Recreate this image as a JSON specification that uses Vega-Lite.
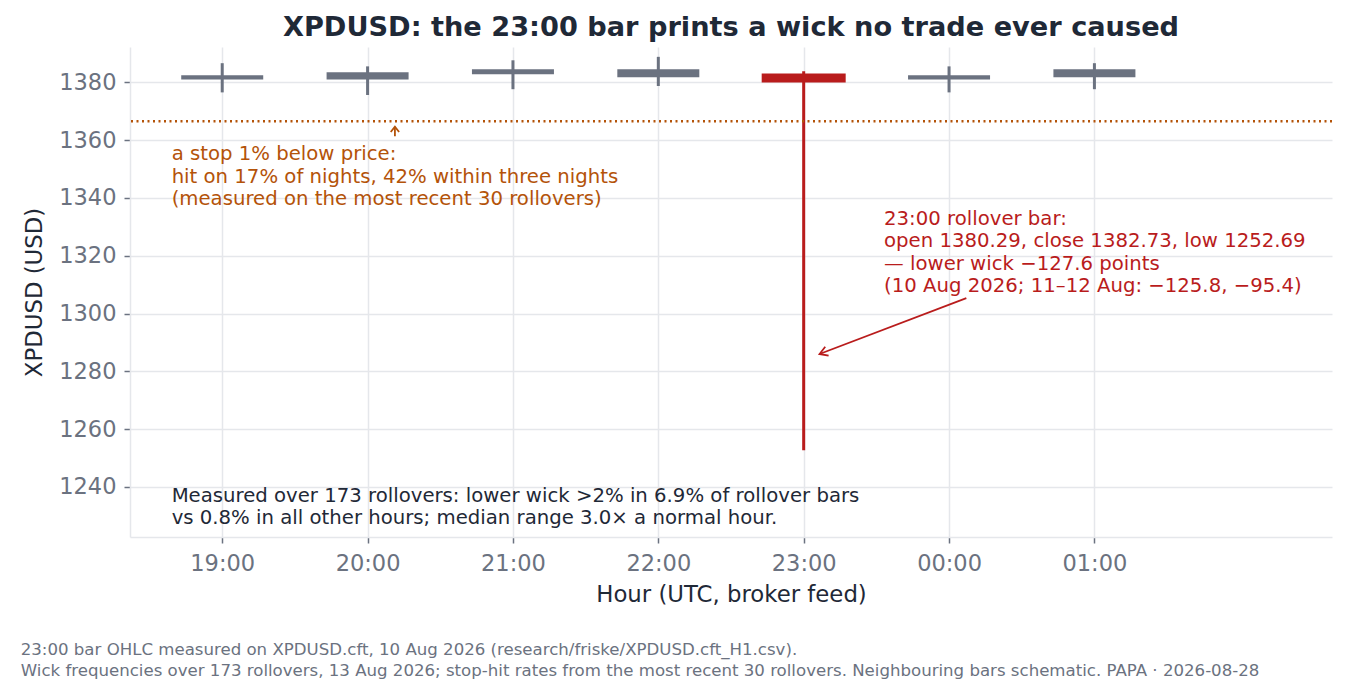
{
  "$schema": "https://vega.github.io/schema/vega-lite/v6.json",
  "width": 1202,
  "height": 490,
  "autosize": {"type": "none"},
  "padding": {"left": 130, "top": 47, "right": 14, "bottom": 158},
  "background": "white",
  "title": {
    "text": "XPDUSD: the 23:00 bar prints a wick no trade ever caused",
    "fontSize": 27.2, "fontWeight": "bold", "color": "#1f2937", "font": "DejaVu Sans",
    "anchor": "middle", "offset": 5
  },
  "config": {
    "font": "DejaVu Sans",
    "view": {"stroke": null},
    "axis": {
      "gridColor": "#e5e7eb", "gridWidth": 1.5, "domainColor": "#e5e7eb", "domainWidth": 1.5,
      "tickColor": "#6b7280", "tickSize": 6, "tickWidth": 1.5,
      "labelColor": "#6b7280", "labelFontSize": 22.5, "labelFont": "DejaVu Sans",
      "titleColor": "#1f2937", "titleFontSize": 22.8, "titleFont": "DejaVu Sans", "titleFontWeight": "normal"
    }
  },
  "data": {"values": [
    {"i": 0, "hour": "19:00", "open": 1381.0, "close": 1382.4, "high": 1386.6, "low": 1376.5, "kind": "normal"},
    {"i": 1, "hour": "20:00", "open": 1383.5, "close": 1381.0, "high": 1385.5, "low": 1375.6, "kind": "normal"},
    {"i": 2, "hour": "21:00", "open": 1382.8, "close": 1384.5, "high": 1387.6, "low": 1377.6, "kind": "normal"},
    {"i": 3, "hour": "22:00", "open": 1381.7, "close": 1384.5, "high": 1388.8, "low": 1378.7, "kind": "normal"},
    {"i": 4, "hour": "23:00", "open": 1380.29, "close": 1382.73, "high": 1383.8, "low": 1252.69, "kind": "rollover"},
    {"i": 5, "hour": "00:00", "open": 1382.4, "close": 1381.0, "high": 1385.5, "low": 1376.5, "kind": "normal"},
    {"i": 6, "hour": "01:00", "open": 1381.7, "close": 1384.5, "high": 1386.6, "low": 1377.6, "kind": "normal"}
  ]},
  "layer": [
    {
      "mark": {"type": "rule", "strokeWidth": 3},
      "encoding": {
        "x": {"field": "i", "type": "quantitative",
          "scale": {"domain": [-0.6, 7.6], "nice": false, "zero": false},
          "axis": {"values": [0, 1, 2, 3, 4, 5, 6], "grid": true, "title": "Hour (UTC, broker feed)",
            "labelExpr": "['19:00','20:00','21:00','22:00','23:00','00:00','01:00'][datum.value]",
            "labelPadding": 9, "titlePadding": 9}},
        "y": {"field": "low", "type": "quantitative",
          "scale": {"domain": [1222.7, 1392.2], "nice": false, "zero": false},
          "axis": {"values": [1240, 1260, 1280, 1300, 1320, 1340, 1360, 1380], "grid": true, "title": "XPDUSD (USD)",
            "format": "d", "labelPadding": 8, "titlePadding": 12}},
        "y2": {"field": "high"},
        "color": {"field": "kind", "type": "nominal", "scale": {"domain": ["normal", "rollover"], "range": ["#6b7280", "#b91c1c"]}, "legend": null}
      }
    },
    {
      "mark": {"type": "bar", "width": 82},
      "encoding": {
        "x": {"field": "i", "type": "quantitative"},
        "y": {"field": "open", "type": "quantitative"},
        "y2": {"field": "close"},
        "color": {"field": "kind", "type": "nominal", "legend": null},
        "stroke": {"field": "kind", "type": "nominal", "scale": {"domain": ["normal", "rollover"], "range": ["#6b7280", "#b91c1c"]}, "legend": null},
        "strokeWidth": {"condition": {"test": "datum.kind === 'rollover'", "value": 2}, "value": 0}
      }
    },
    {
      "data": {"values": [{"stop": 1366.49}]},
      "mark": {"type": "rule", "color": "#b45309", "strokeWidth": 2.5, "strokeDash": [2, 3.5]},
      "encoding": {"y": {"field": "stop", "type": "quantitative"}}
    },
    {
      "data": {"values": [{}]},
      "mark": {"type": "rule", "color": "#b45309", "strokeWidth": 1.8},
      "encoding": {"x": {"datum": 1.188}, "y": {"datum": 1361.3}, "y2": {"datum": 1364.6}}
    },
    {
      "data": {"values": [{}]},
      "mark": {"type": "point", "shape": "M -1 -0.8 L 0 0 L -1 0.8", "filled": false, "stroke": "#b45309", "strokeWidth": 1.8, "size": 110, "angle": 270, "opacity": 1},
      "encoding": {"x": {"datum": 1.188}, "y": {"datum": 1364.6}}
    },
    {
      "data": {"values": [{}]},
      "mark": {"type": "rule", "color": "#b91c1c", "strokeWidth": 1.8},
      "encoding": {"x": {"datum": 5.119}, "y": {"datum": 1305.3}, "x2": {"datum": 4.109}, "y2": {"datum": 1286.0}}
    },
    {
      "data": {"values": [{}]},
      "mark": {"type": "point", "shape": "M -1 -0.6 L 0 0 L -1 0.6", "filled": false, "stroke": "#b91c1c", "strokeWidth": 1.8, "size": 250, "angle": 159.3, "opacity": 1},
      "encoding": {"x": {"datum": 4.109}, "y": {"datum": 1286.0}}
    },
    {
      "data": {"values": [{"t": ["a stop 1% below price:", "hit on 17% of nights, 42% within three nights", "(measured on the most recent 30 rollovers)"]}]},
      "mark": {"type": "text", "align": "left", "baseline": "top", "fontSize": 19.7, "lineHeight": 22.5, "color": "#b45309"},
      "encoding": {"x": {"datum": -0.348}, "y": {"datum": 1358.6}, "text": {"field": "t"}}
    },
    {
      "data": {"values": [{"t": ["23:00 rollover bar:", "open 1380.29, close 1382.73, low 1252.69", "— lower wick −127.6 points", "(10 Aug 2026; 11–12 Aug: −125.8, −95.4)"]}]},
      "mark": {"type": "text", "align": "left", "baseline": "top", "fontSize": 19.7, "lineHeight": 22.3, "color": "#b91c1c"},
      "encoding": {"x": {"datum": 4.553}, "y": {"datum": 1336.1}, "text": {"field": "t"}}
    },
    {
      "data": {"values": [{"t": ["Measured over 173 rollovers: lower wick >2% in 6.9% of rollover bars", "vs 0.8% in all other hours; median range 3.0× a normal hour."]}]},
      "mark": {"type": "text", "align": "left", "baseline": "top", "fontSize": 19.7, "lineHeight": 22.3, "color": "#1f2937"},
      "encoding": {"x": {"datum": -0.348}, "y": {"datum": 1240.35}, "text": {"field": "t"}}
    },
    {
      "data": {"values": [{"t": ["23:00 bar OHLC measured on XPDUSD.cft, 10 Aug 2026 (research/friske/XPDUSD.cft_H1.csv).", "Wick frequencies over 173 rollovers, 13 Aug 2026; stop-hit rates from the most recent 30 rollovers. Neighbouring bars schematic. PAPA · 2026-08-28"]}]},
      "mark": {"type": "text", "align": "left", "baseline": "top", "fontSize": 16.6, "lineHeight": 21, "color": "#6b7280"},
      "encoding": {"x": {"datum": -1.386}, "y": {"datum": 1186.3}, "text": {"field": "t"}}
    }
  ]
}
